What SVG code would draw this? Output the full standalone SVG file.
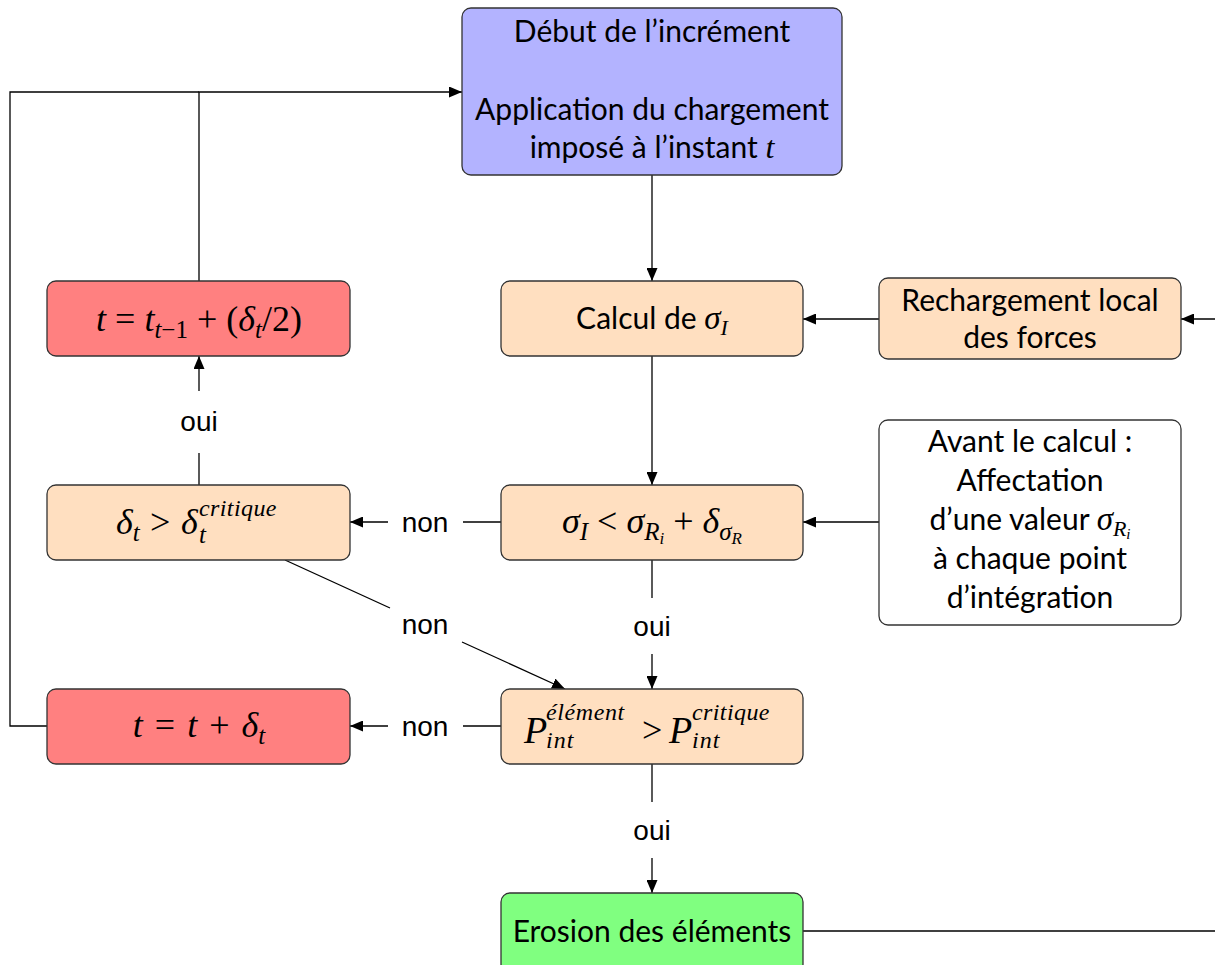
<svg xmlns="http://www.w3.org/2000/svg" width="1215" height="965" viewBox="0 0 1215 965">
<defs>
<style>
.box{stroke:#333;stroke-width:1.3}
.ln{stroke:#000;stroke-width:1.3;fill:none}
.t{font-family:Lato,"Noto Sans",sans-serif;font-size:30px;text-anchor:middle;fill:#000}
.m{font-family:"Liberation Serif",serif;font-size:36px;fill:#000}
.mi{font-family:"Liberation Serif",serif;font-style:italic}
.i{font-style:italic}
.lab{font-family:"Liberation Sans",sans-serif;font-size:28px;text-anchor:middle;fill:#000}
</style>
<marker id="ar" markerUnits="userSpaceOnUse" markerWidth="13" markerHeight="11" refX="13" refY="5.5" orient="auto">
<path d="M0,0 L13,5.5 L0,11 z" fill="#000"/>
</marker>
</defs>
<rect width="1215" height="965" fill="#fff"/>

<g id="connectors">
<line class="ln" x1="652" y1="175" x2="652" y2="281" marker-end="url(#ar)"/>
<line class="ln" x1="879" y1="319" x2="803" y2="319" marker-end="url(#ar)"/>
<line class="ln" x1="1215" y1="319" x2="1181" y2="319" marker-end="url(#ar)"/>
<line class="ln" x1="652" y1="356" x2="652" y2="485" marker-end="url(#ar)"/>
<line class="ln" x1="879" y1="522" x2="803" y2="522" marker-end="url(#ar)"/>
<line class="ln" x1="501" y1="522" x2="463" y2="522"/>
<line class="ln" x1="388" y1="522" x2="350" y2="522" marker-end="url(#ar)"/>
<line class="ln" x1="652" y1="560" x2="652" y2="598"/>
<line class="ln" x1="652" y1="654" x2="652" y2="689" marker-end="url(#ar)"/>
<line class="ln" x1="285" y1="560" x2="390" y2="608"/>
<line class="ln" x1="462" y1="642" x2="565" y2="689" marker-end="url(#ar)"/>
<line class="ln" x1="199" y1="485" x2="199" y2="453"/>
<line class="ln" x1="199" y1="391" x2="199" y2="356" marker-end="url(#ar)"/>
<polyline class="ln" points="199,281 199,92 462,92" marker-end="url(#ar)"/>
<polyline class="ln" points="47,726 10,726 10,92 199,92"/>
<line class="ln" x1="501" y1="726" x2="463" y2="726"/>
<line class="ln" x1="388" y1="726" x2="350" y2="726" marker-end="url(#ar)"/>
<line class="ln" x1="652" y1="764" x2="652" y2="802"/>
<line class="ln" x1="652" y1="858" x2="652" y2="893" marker-end="url(#ar)"/>
<line class="ln" x1="803" y1="931" x2="1215" y2="931"/>
<text class="lab" x="425" y="532">non</text>
<text class="lab" x="652" y="636">oui</text>
<text class="lab" x="425" y="634">non</text>
<text class="lab" x="199" y="431">oui</text>
<text class="lab" x="425" y="736">non</text>
<text class="lab" x="652" y="840">oui</text>
</g>

<g id="debut">
<rect class="box" x="462" y="8" width="380" height="167" rx="9" fill="#b3b3ff"/>
<text class="t" x="652" y="42">Début de l’incrément</text>
<text class="t" x="652" y="120">Application du chargement</text>
<text class="t" x="652" y="158">imposé à l’instant <tspan class="mi" font-size="32">t</tspan></text>
</g>

<g id="calcul">
<rect class="box" x="501" y="281" width="302" height="75" rx="9" fill="#ffdfc0"/>
<text class="t" x="652" y="329">Calcul de <tspan class="mi" font-size="33">σ</tspan><tspan class="mi" font-size="22" dy="6">I</tspan></text>
</g>

<g id="rechargement">
<rect class="box" x="879" y="278" width="302" height="81" rx="9" fill="#ffdfc0"/>
<text class="t" x="1030" y="311">Rechargement local</text>
<text class="t" x="1030" y="348">des forces</text>
</g>

<g id="tmoitie">
<rect class="box" x="47" y="281" width="303" height="75" rx="9" fill="#ff8080"/>
<text class="m" x="199" y="331" text-anchor="middle"><tspan class="i">t</tspan> = <tspan class="i">t</tspan><tspan class="i" font-size="25" dy="7">t</tspan><tspan font-size="25">−1</tspan><tspan dy="-7"> + (</tspan><tspan class="i">δ</tspan><tspan class="i" font-size="25" dy="7">t</tspan><tspan dy="-7">/2)</tspan></text>
</g>

<g id="delta">
<rect class="box" x="47" y="485" width="303" height="75" rx="9" fill="#ffdfc0"/>
<text class="m"><tspan class="i" x="116" y="534">δ</tspan><tspan class="i" font-size="25" y="541">t</tspan><tspan x="150" y="534">&gt;</tspan><tspan class="i" x="181" y="534">δ</tspan><tspan class="i" font-size="24" x="199" y="516" letter-spacing="0.4">critique</tspan><tspan class="i" font-size="25" x="199" y="543">t</tspan></text>
</g>

<g id="sigma">
<rect class="box" x="501" y="485" width="302" height="75" rx="9" fill="#ffdfc0"/>
<text class="m" x="652" y="533" text-anchor="middle"><tspan class="i">σ</tspan><tspan class="i" font-size="25" dy="7">I</tspan><tspan dy="-7"> &lt; </tspan><tspan class="i">σ</tspan><tspan class="i" font-size="25" dy="7">R</tspan><tspan class="i" font-size="17" dy="4">i</tspan><tspan dy="-11"> + </tspan><tspan class="i">δ</tspan><tspan class="i" font-size="25" dy="7">σ</tspan><tspan class="i" font-size="17" dy="4">R</tspan></text>
</g>

<g id="avant">
<rect class="box" x="879" y="420" width="302" height="205" rx="9" fill="#fff"/>
<text class="t" x="1030" y="452">Avant le calcul :</text>
<text class="t" x="1030" y="491">Affectation</text>
<text class="t" x="1030" y="530">d’une valeur <tspan class="mi" font-size="33">σ</tspan><tspan class="mi" font-size="22" dy="6">R</tspan><tspan class="mi" font-size="15" dy="3">i</tspan></text>
<text class="t" x="1030" y="569">à chaque point</text>
<text class="t" x="1030" y="608">d’intégration</text>
</g>

<g id="tplus">
<rect class="box" x="47" y="689" width="303" height="75" rx="9" fill="#ff8080"/>
<text class="m" x="199" y="737" text-anchor="middle" word-spacing="3"><tspan class="i">t</tspan> = <tspan class="i">t</tspan> + <tspan class="i">δ</tspan><tspan class="i" font-size="25" dy="7">t</tspan></text>
</g>

<g id="puissance">
<rect class="box" x="501" y="689" width="302" height="75" rx="9" fill="#ffdfc0"/>
<text class="m"><tspan class="i" x="524" y="743" font-size="38">P</tspan><tspan class="i" font-size="24" x="546" y="720" letter-spacing="0.6">élément</tspan><tspan class="i" font-size="24" x="546" y="748" letter-spacing="1">int</tspan><tspan x="642" y="742">&gt;</tspan><tspan class="i" x="669" y="743" font-size="38">P</tspan><tspan class="i" font-size="24" x="692" y="720" letter-spacing="0.4">critique</tspan><tspan class="i" font-size="24" x="692" y="748" letter-spacing="1">int</tspan></text>
</g>

<g id="erosion">
<rect class="box" x="501" y="893" width="302" height="80" rx="9" fill="#80ff80"/>
<text class="t" x="652" y="942">Erosion des éléments</text>
</g>
</svg>
